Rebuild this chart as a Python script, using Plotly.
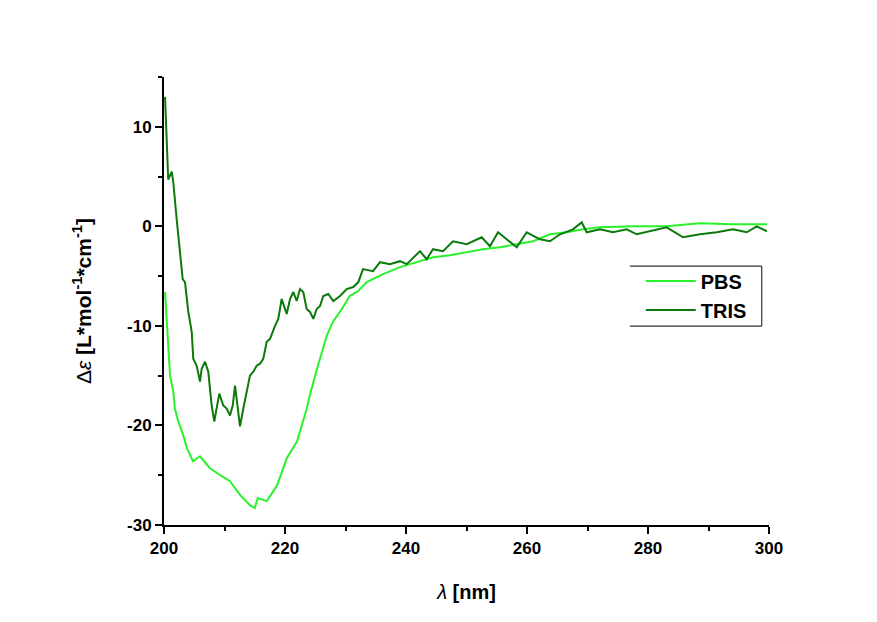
import plotly.graph_objects as go

# Wavelength (nm) and molar ellipticity values
pbs_wl = [200.17, 200.7, 201.0, 201.54, 201.8, 202.36, 202.6, 203.19, 203.8, 204.8,
          205.95, 207.6, 209.3, 210.9, 212.6, 214.2, 215.0, 215.5, 217.0, 218.7,
          220.3, 222.0, 223.6, 224.1, 225.3, 225.8, 226.9, 227.9, 229.4, 230.7,
          232.1, 233.5, 236.2, 239.0, 241.8, 244.5, 247.3, 250.0, 252.7, 255.5,
          258.3, 261.0, 263.8, 266.6, 269.3, 272.0, 277.5, 283.0, 288.6, 294.0, 299.7]
pbs_de = [-6.6, -12.6, -15.0, -16.6, -18.3, -19.6, -20.0, -21.0, -22.3, -23.6,
          -23.1, -24.3, -25.0, -25.6, -27.0, -28.0, -28.3, -27.3, -27.6, -26.0,
          -23.3, -21.6, -18.3, -17.0, -14.3, -13.3, -11.0, -9.6, -8.3, -7.0,
          -6.5, -5.6, -4.8, -4.1, -3.6, -3.1, -2.9, -2.6, -2.3, -2.1,
          -1.8, -1.5, -0.8, -0.6, -0.3, -0.1, 0.0, 0.0, 0.3, 0.2, 0.2]

tris_wl = [200.17, 200.45, 200.7, 201.27, 201.54, 202.1, 202.64, 203.09, 203.47, 204.02,
           204.58, 204.84, 205.4, 205.95, 206.23, 206.78, 207.32, 207.88, 208.31, 208.71,
           209.14, 209.8, 210.36, 210.91, 211.36, 211.74, 212.12, 212.56, 213.11, 213.67,
           214.21, 214.76, 215.32, 215.87, 216.41, 216.98, 217.52, 218.35, 218.89, 219.45,
           219.83, 220.28, 220.83, 221.37, 221.93, 222.48, 223.02, 223.58, 224.13, 224.68,
           225.24, 225.79, 226.33, 227.16, 227.98, 229.09, 230.2, 231.29, 232.12, 232.89,
           234.55, 235.7, 237.36, 239.0, 240.12, 242.31, 243.42, 244.46, 246.12, 247.77,
           250.03, 252.51, 253.88, 255.21, 256.64, 258.3, 259.95, 262.15, 263.8, 265.45,
           267.6, 269.04, 269.87, 272.07, 274.21, 276.48, 278.13, 280.33, 283.09, 285.79,
           288.6, 291.36, 294.05, 296.31, 297.97, 299.67]
tris_de = [13.0, 7.4, 4.7, 5.5, 4.4, 0.7, -2.6, -5.3, -5.6, -8.6,
           -10.6, -13.3, -14.0, -15.6, -14.3, -13.6, -14.6, -18.0, -19.6, -18.3,
           -16.8, -18.0, -18.3, -19.0, -18.0, -16.0, -18.0, -20.1, -18.3, -16.6,
           -15.0, -14.6, -14.0, -13.8, -13.3, -11.6, -11.3, -10.0, -9.3, -7.3,
           -8.0, -8.8, -7.3, -6.6, -7.5, -6.3, -6.6, -8.3, -8.6, -9.3,
           -8.3, -8.0, -7.0, -6.8, -7.5, -7.0, -6.3, -6.1, -5.6, -4.3,
           -4.5, -3.6, -3.8, -3.5, -3.8, -2.5, -3.3, -2.3, -2.5, -1.5,
           -1.8, -1.1, -2.0, -0.6, -1.3, -2.1, -0.6, -1.3, -1.5, -0.8,
           -0.3, 0.4, -0.6, -0.3, -0.6, -0.3, -0.8, -0.5, -0.1, -1.1,
           -0.8, -0.6, -0.3, -0.6, 0.0, -0.5]

series_names = ["PBS", "TRIS"]
x_ticks = [200, 220, 240, 260, 280, 300]
y_ticks = [-30, -20, -10, 0, 10]

FONT = "Arial, 'Liberation Sans', sans-serif"

fig = go.Figure()
fig.add_trace(go.Scatter(x=pbs_wl, y=pbs_de, mode="lines", name=series_names[0],
                         line=dict(color="#2af22a", width=2)))
fig.add_trace(go.Scatter(x=tris_wl, y=tris_de, mode="lines", name=series_names[1],
                         line=dict(color="#0b7a0b", width=2)))

axis_common = dict(showline=True, linecolor="black", linewidth=2, showgrid=False,
                   zeroline=False, ticks="outside", ticklen=7, tickwidth=2,
                   tickcolor="black", mirror=False,
                   tickfont=dict(family=FONT, size=17, color="black", weight="bold"))

fig.update_xaxes(range=[200, 300], tickvals=x_ticks, ticktext=[str(v) for v in x_ticks],
                 minor=dict(dtick=10, ticks="outside", ticklen=4, tickwidth=2, tickcolor="black"),
                 title=dict(text="<i>λ</i> <b>[nm]</b>", standoff=28,
                            font=dict(family=FONT, size=20, color="black")),
                 **axis_common)
fig.update_yaxes(range=[-30, 15], tickvals=y_ticks, ticktext=[str(v) for v in y_ticks],
                 minor=dict(dtick=5, tick0=0, ticks="outside", ticklen=4, tickwidth=2, tickcolor="black"),
                 title=dict(text="Δ<i>ε</i> <b>[L*mol<sup>-1</sup>*cm<sup>-1</sup>]</b>", standoff=30,
                            font=dict(family=FONT, size=21, color="black")),
                 **axis_common)

# legend box (top, right and bottom edges)
lx0, lx1, ly0, ly1 = 0.770, 0.988, 0.444, 0.578
for (xa, ya, xb, yb) in [(lx0, ly1, lx1, ly1), (lx1, ly1, lx1, ly0), (lx0, ly0, lx1, ly0)]:
    fig.add_shape(type="line", xref="paper", yref="paper", x0=xa, y0=ya, x1=xb, y1=yb,
                  line=dict(color="#333333", width=1.2))

fig.update_layout(
    width=877, height=622,
    margin=dict(l=156, r=116, t=69, b=105),
    paper_bgcolor="white", plot_bgcolor="white",
    showlegend=True,
    legend=dict(x=lx0 + 0.018, y=ly1 + 0.010, xanchor="left", yanchor="top",
                bgcolor="rgba(0,0,0,0)", borderwidth=0, itemwidth=50,
                font=dict(family=FONT, size=20, color="black", weight="bold")),
)

fig.write_html("out.html")
